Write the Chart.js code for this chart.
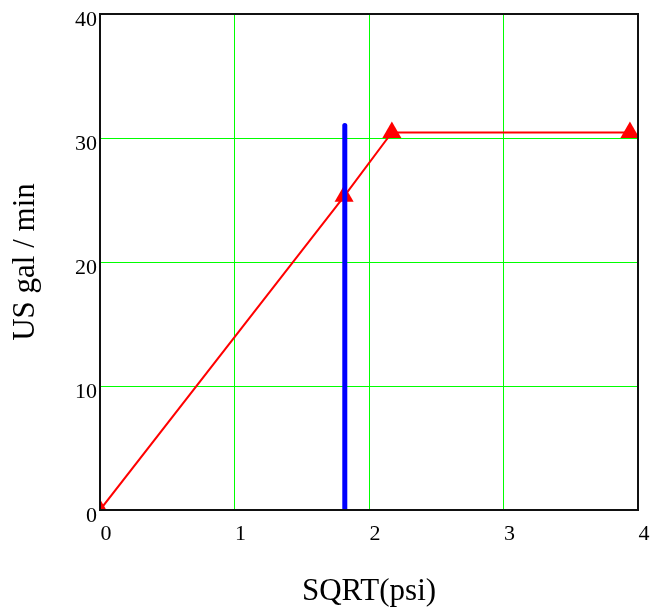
<!DOCTYPE html>
<html>
<head>
<meta charset="utf-8">
<script src="https://cdn.jsdelivr.net/npm/chart.js@4"></script>
<style>
  html, body { margin: 0; padding: 0; background: #fff; }
  #wrap { width: 650px; height: 607px; position: relative; }
</style>
</head>
<body>
<div id="wrap"><canvas id="flowChart"></canvas></div>
<script>
// Curva de caudal
var curveX = [0, 1.815, 2.17, 3.94];
var curveY = [0, 25.3, 30.45, 30.45];

// Línea vertical azul
var markerX = [1.82, 1.82];
var markerY = [0, 31];

// Ejes
var xTicks = [0, 1, 2, 3, 4];
var yTicks = [0, 10, 20, 30, 40];

var serif = "'Liberation Serif', 'Times New Roman', serif";
var gridGreen = 'rgb(0, 255, 0)';

function toPoints(xs, ys) {
    return xs.map(function(x, i) { return { x: x, y: ys[i] }; });
}

// Marco negro alrededor del área del gráfico
var frame = {
    id: 'frame',
    afterDatasetsDraw: function(chart) {
        var a = chart.chartArea;
        var ctx = chart.ctx;
        ctx.save();
        ctx.strokeStyle = '#111';
        ctx.lineWidth = 2;
        ctx.strokeRect(a.left, a.top, a.right - a.left, a.bottom - a.top);
        ctx.restore();
    }
};

var ctx = document.getElementById('flowChart').getContext('2d');
var flowChart = new Chart(ctx, {
    type: 'scatter',
    data: {
        datasets: [{
            data: toPoints(markerX, markerY),
            showLine: true,
            borderColor: '#0000ff',
            borderWidth: 5,
            borderCapStyle: 'round',
            pointRadius: 0,
            clip: 0,
            order: 0
        }, {
            data: toPoints(curveX, curveY),
            showLine: true,
            borderColor: '#ff0000',
            backgroundColor: '#ff0000',
            borderWidth: 2,
            pointStyle: 'triangle',
            pointRadius: 11,
            pointBorderWidth: 0,
            clip: 0,
            order: 1
        }]
    },
    options: {
        responsive: true,
        maintainAspectRatio: false,
        animation: false,
        layout: { padding: { top: 14, right: 12, left: 0, bottom: 0 } },
        plugins: {
            legend: { display: false },
            tooltip: { enabled: false }
        },
        scales: {
            x: {
                type: 'linear',
                min: xTicks[0],
                max: xTicks[xTicks.length - 1],
                afterBuildTicks: function(scale) {
                    scale.ticks = xTicks.map(function(v) { return { value: v }; });
                },
                afterFit: function(scale) {
                    scale.height = 97;
                    scale.paddingLeft = 0;
                    scale.paddingRight = 0;
                },
                grid: { color: gridGreen, lineWidth: 1, drawTicks: false },
                border: { display: false },
                ticks: {
                    color: '#000',
                    padding: 11,
                    labelOffset: 6,
                    maxRotation: 0,
                    font: { family: serif, size: 22 }
                },
                title: {
                    display: true,
                    text: 'SQRT(psi)',
                    color: '#000',
                    font: { family: serif, size: 31 },
                    padding: { top: 0, bottom: -3 }
                }
            },
            y: {
                type: 'linear',
                min: yTicks[0],
                max: yTicks[yTicks.length - 1],
                afterBuildTicks: function(scale) {
                    scale.ticks = yTicks.map(function(v) { return { value: v }; });
                },
                afterFit: function(scale) {
                    scale.width = 100;
                    scale.paddingTop = 0;
                    scale.paddingBottom = 0;
                },
                grid: { color: gridGreen, lineWidth: 1, drawTicks: false },
                border: { display: false },
                ticks: {
                    color: '#000',
                    padding: 3,
                    labelOffset: 6,
                    font: { family: serif, size: 22 }
                },
                title: {
                    display: true,
                    text: 'US gal / min',
                    color: '#000',
                    font: { family: serif, size: 31 },
                    padding: { top: 7, bottom: 0 }
                }
            }
        }
    },
    plugins: [frame]
});
</script>
</body>
</html>
